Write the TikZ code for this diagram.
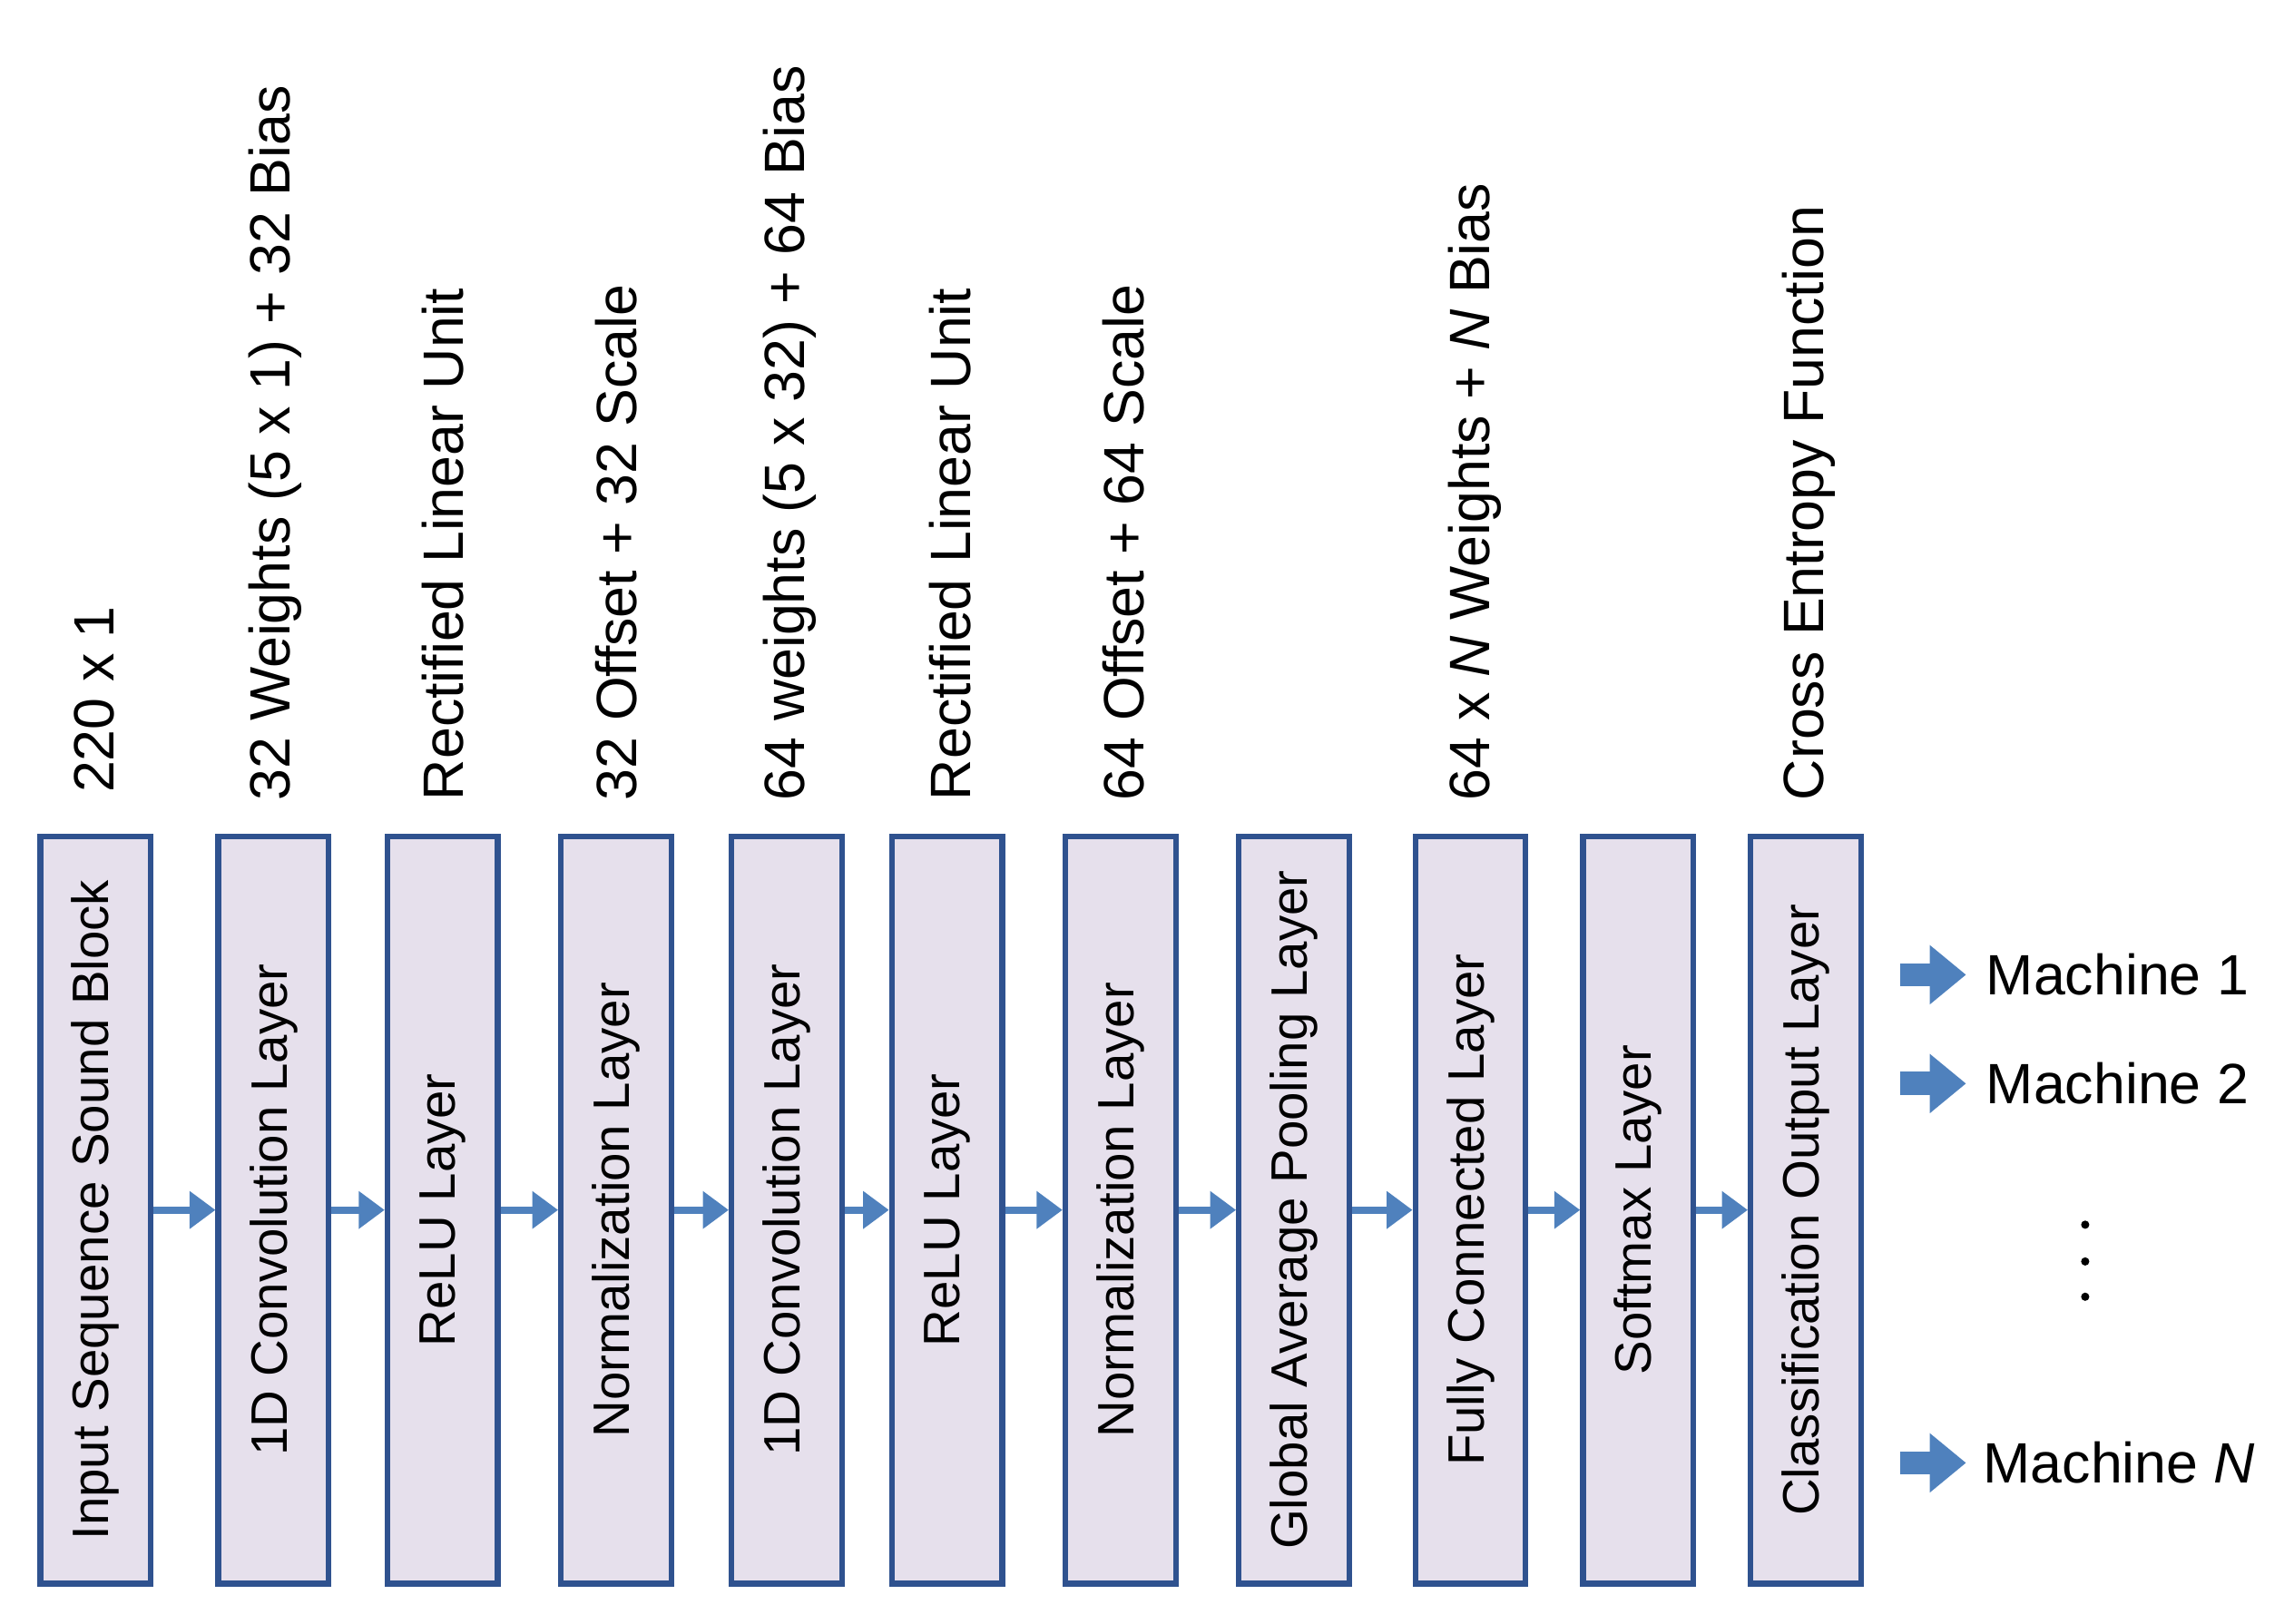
\documentclass[tikz,border=0pt]{standalone}
\usepackage{fontspec}
\setmainfont{Liberation Sans}
\usetikzlibrary{arrows.meta}
\definecolor{boxfill}{HTML}{E6E0EC}
\definecolor{boxline}{HTML}{2F528F}
\definecolor{arrowblue}{HTML}{4F81BD}
\tikzset{
  layer/.style={draw=boxline, line width=1.1pt, fill=boxfill, minimum width=0.75cm,
    minimum height=5.08cm, inner sep=0pt},
  layertext/.style={rotate=90, font=\fontsize{9.9}{11}\selectfont},
  toplabel/.style={rotate=90, anchor=west, inner sep=0pt, font=\fontsize{11}{13}\selectfont},
  flow/.style={draw=arrowblue, line width=1.4pt, -{Triangle[length=5pt,width=7pt]}},
  outarrow/.style={draw=arrowblue, line width=4.5pt, -{Triangle[length=7pt,width=11pt]}},
  machine/.style={anchor=west, inner sep=0pt, font=\fontsize{11}{13}\selectfont}
}
\begin{document}
\begin{tikzpicture}[x=0.01cm,y=-0.01cm]
  \useasboundingbox (0,0) rectangle (1560,1104);
  % layers
  \foreach \n/\x/\t in {a/65/Input Sequence Sound Block, b/186/1D Convolution Layer,
      c/301/ReLU Layer, d/419/Normalization Layer, e/535/1D Convolution Layer,
      f/644/ReLU Layer, g/762/Normalization Layer, h/880/Global Average Pooling Layer,
      i/1000/Fully Connected Layer, j/1114/Softmax Layer, k/1228/Classification Output Layer}{
    \node[layer] (\n) at (\x,823) {};
    \node[layertext] at (\n.center) {\t};
  }
  % connectors
  \foreach \p/\q in {a/b,b/c,c/d,d/e,e/f,f/g,g/h,h/i,i/j,j/k}
    \draw[flow] (\p.east) -- (\q.west);
  % parameters above
  \node[toplabel] at (64,540) {220 x 1};
  \node[toplabel] at (187,545) {32 Weights (5 x 1) + 32 Bias};
  \node[toplabel] at (301,545) {Rectified Linear Unit};
  \node[toplabel] at (419,545) {32 Offset + 32 Scale};
  \node[toplabel] at (537,545) {64 weights (5 x 32) + 64 Bias};
  \node[toplabel] at (646,545) {Rectified Linear Unit};
  \node[toplabel] at (764,545) {64 Offset + 64 Scale};
  \node[toplabel] at (1003,545) {64 x \textit{N} Weights + \textit{N} Bias};
  \node[toplabel] at (1230,545) {Cross Entropy Function};
  % outputs
  \node[machine] (m1) at (1350,663) {Machine 1};
  \node[machine] (m2) at (1350,737) {Machine 2};
  \node[machine] (mn) at (1348,995) {Machine \textit{N}};
  \coordinate (s1) at (1292,663);
  \coordinate (s2) at (1292,737);
  \coordinate (sn) at (1292,995);
  \draw[outarrow] (s1) -- ([xshift=-0.13cm]m1.west);
  \draw[outarrow] (s2) -- ([xshift=-0.13cm]m2.west);
  \draw[outarrow] (sn) -- ([xshift=-0.11cm]mn.west);
  \foreach \y in {833,858,882}
    \fill (1418,\y) circle (0.8pt);
\end{tikzpicture}
\end{document}
